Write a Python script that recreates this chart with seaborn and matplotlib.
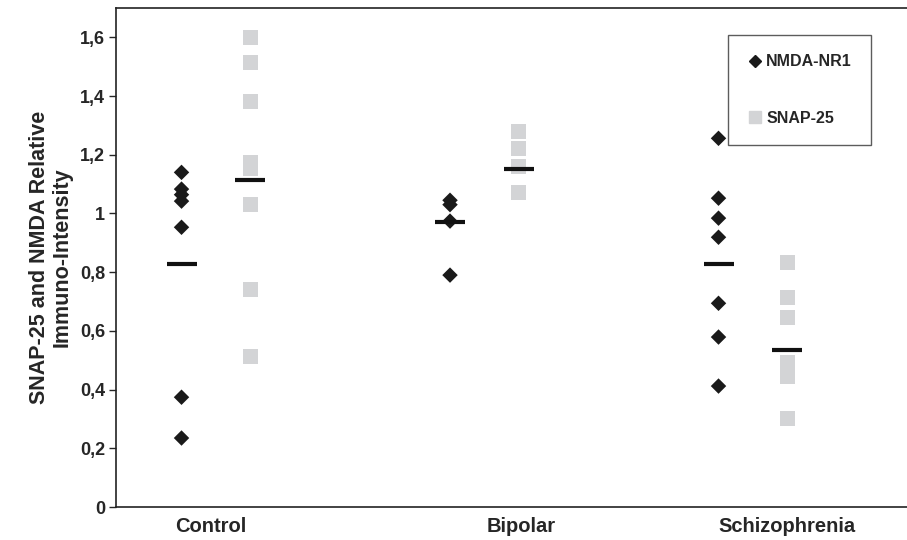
import numpy as np
import pandas as pd
import matplotlib
matplotlib.use('Agg')
import matplotlib.pyplot as plt
import seaborn as sns
from matplotlib.ticker import FuncFormatter, MultipleLocator
from matplotlib.lines import Line2D

sns.set_style('white')
plt.rcParams['font.family'] = ['Liberation Sans', 'DejaVu Sans']
plt.rcParams['font.weight'] = 'bold'

# 값은 그림에서 읽음
groups = ['Control', 'Bipolar', 'Schizophrenia']
nmda_control = [1.14, 1.083, 1.064, 1.042, 0.953, 0.374, 0.235]
nmda_bipolar = [1.045, 1.03, 0.974, 0.790]
nmda_schizo = [1.256, 1.052, 0.984, 0.919, 0.694, 0.579, 0.412]
snap_control = [1.60, 1.515, 1.382, 1.174, 1.154, 1.031, 0.742, 0.514]
snap_bipolar = [1.28, 1.222, 1.161, 1.072]
snap_schizo = [0.834, 0.715, 0.647, 0.494, 0.446, 0.303]
nmda_means = [0.827, 0.970, 0.827]
snap_means = [1.113, 1.153, 0.534]

rows = []
for i, (g, vals) in enumerate(zip(groups, [nmda_control, nmda_bipolar, nmda_schizo])):
    for v in vals:
        rows.append({'group': g, 'pos': i + 1, 'marker': 'NMDA-NR1', 'value': v})
for i, (g, vals) in enumerate(zip(groups, [snap_control, snap_bipolar, snap_schizo])):
    for v in vals:
        rows.append({'group': g, 'pos': i + 1, 'marker': 'SNAP-25', 'value': v})
df = pd.DataFrame(rows)
offset = {'NMDA-NR1': -0.128, 'SNAP-25': 0.128}
df['x'] = df['pos'] + df['marker'].map(offset)

fig = plt.figure(figsize=(9.07, 5.4), dpi=100)
ax = fig.add_axes([116 / 907, 33 / 540, 791 / 907, 499 / 540])

snap = df[df['marker'] == 'SNAP-25']
nmda = df[df['marker'] == 'NMDA-NR1']
sns.scatterplot(data=snap, x='x', y='value', marker='s', s=115, color='#d3d4d6',
                edgecolor='none', ax=ax, legend=False, zorder=2)
sns.scatterplot(data=nmda, x='x', y='value', marker='D', s=62, color='#1a1a1a',
                edgecolor='none', ax=ax, legend=False, zorder=3)

# 평균선
pos = np.arange(1, len(groups) + 1)
ax.plot(pos + offset['NMDA-NR1'], nmda_means, linestyle='none', marker='_',
        markersize=21, markeredgewidth=3, color='#111111', zorder=4)
ax.plot(pos + offset['SNAP-25'], snap_means, linestyle='none', marker='_',
        markersize=21, markeredgewidth=3, color='#111111', zorder=4)

ax.set_xlim(0.628, 3.574)
ax.set_ylim(0, 1.70)
ax.yaxis.set_major_locator(MultipleLocator(0.2))
ax.yaxis.set_major_formatter(FuncFormatter(lambda v, p: f'{v:.1f}'.rstrip('0').rstrip('.').replace('.', ',') if v > 0 else '0'))
ax.set_xticks([0.981, 2.136, 3.127])
ax.set_xticklabels(groups)
ax.tick_params(axis='y', which='major', direction='out', length=5, width=1, labelsize=13, left=True, pad=3)
ax.tick_params(axis='x', length=0, labelsize=14.5, pad=7)
for lab in ax.get_xticklabels() + ax.get_yticklabels():
    lab.set_fontweight('bold')
ax.set_xlabel('')
ax.set_ylabel('SNAP-25 and NMDA Relative\nImmuno-Intensity', fontsize=15.5,
              fontweight='bold', labelpad=5, linespacing=1.1)

for s in ['left', 'bottom', 'top']:
    ax.spines[s].set_visible(True)
    ax.spines[s].set_color('#222222')
    ax.spines[s].set_linewidth(1.2)
ax.spines['right'].set_visible(False)

handles = [
    Line2D([], [], linestyle='none', marker='D', markersize=6, color='#1a1a1a', label='NMDA-NR1'),
    Line2D([], [], linestyle='none', marker='s', markersize=8, color='#d3d4d6', label='SNAP-25'),
]
leg = ax.legend(handles=handles, loc='upper right', bbox_to_anchor=(0.9545, 0.946),
                borderaxespad=0, frameon=True, fancybox=False, labelspacing=2.6,
                handletextpad=0.2, handlelength=1.0, borderpad=1.2,
                prop={'weight': 'bold', 'size': 11.5})
leg.get_frame().set_edgecolor('#333333')
leg.get_frame().set_linewidth(1.0)

fig.savefig('out.png', dpi=100)
